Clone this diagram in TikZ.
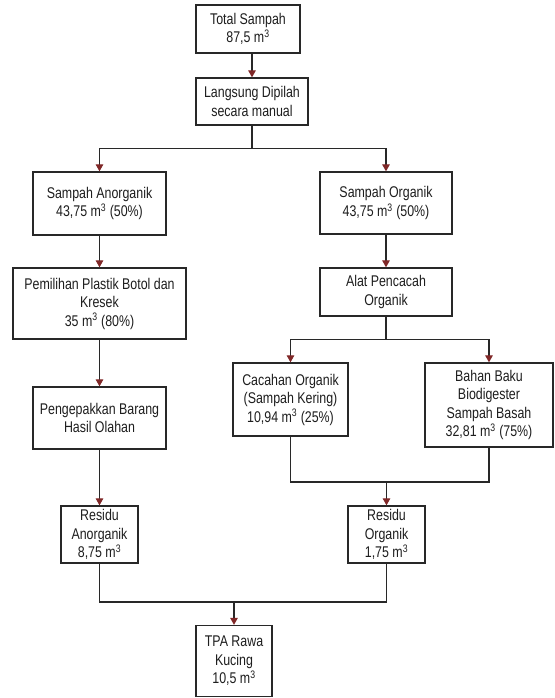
\documentclass[tikz,border=0pt]{standalone}
\usepackage{fontspec}
\setmainfont[FakeStretch=0.8]{Liberation Sans}
\usetikzlibrary{arrows.meta}
\definecolor{arrowred}{RGB}{128,40,40}
\definecolor{boxline}{RGB}{40,40,40}
\definecolor{txt}{RGB}{30,30,30}
\begin{document}
\begin{tikzpicture}[x=1pt,y=-1pt,
  box/.style={draw=boxline,line width=1.3pt,fill=white,align=center,inner sep=0pt,
    text=txt,font=\fontsize{15.5}{18.5}\selectfont},
  conn/.style={draw=boxline,line width=1.2pt},
  arr/.style={conn,-{Triangle[length=7pt,width=7.5pt,color=arrowred]}}]
\path[fill=white,use as bounding box] (0,0) rectangle (554,698);

\node[box,minimum width=104pt,minimum height=48pt] (total) at (248,29) {Total Sampah\\87,5 m\textsuperscript{3}};
\node[box,minimum width=112pt,minimum height=47pt] (langsung) at (252,101.5) {Langsung Dipilah\\secara manual};
\node[box,minimum width=133pt,minimum height=63pt] (anorg) at (99.5,203.5) {Sampah Anorganik\\43,75 m\textsuperscript{3} (50\%)};
\node[box,minimum width=132pt,minimum height=62pt] (org) at (386,203) {Sampah Organik\\43,75 m\textsuperscript{3} (50\%)};
\node[box,minimum width=173pt,minimum height=71pt] (pemilihan) at (99.5,303.5) {Pemilihan Plastik Botol dan\\Kresek\\35 m\textsuperscript{3} (80\%)};
\node[box,minimum width=132pt,minimum height=48pt] (alat) at (386,292) {Alat Pencacah\\Organik};
\node[box,minimum width=133pt,minimum height=62pt] (pengepakkan) at (99.5,418) {Pengepakkan Barang\\Hasil Olahan};
\node[box,minimum width=115pt,minimum height=73pt] (cacahan) at (290.5,399.5) {Cacahan Organik\\(Sampah Kering)\\10,94 m\textsuperscript{3} (25\%)};
\node[box,minimum width=128pt,minimum height=84pt] (bahan) at (489,405) {Bahan Baku\\Biodigester\\Sampah Basah\\32,81 m\textsuperscript{3} (75\%)};
\node[box,minimum width=77pt,minimum height=57pt] (resA) at (99.5,534.5) {Residu\\Anorganik\\8,75 m\textsuperscript{3}};
\node[box,minimum width=77pt,minimum height=57pt] (resO) at (386.5,534.5) {Residu\\Organik\\1,75 m\textsuperscript{3}};
\node[box,minimum width=76pt,minimum height=71pt] (tpa) at (234,661) {TPA Rawa\\Kucing\\10,5 m\textsuperscript{3}};

\draw[arr] (langsung.north |- total.south) -- (langsung.north);
\path (langsung.south) ++(0,23) coordinate (j1);
\draw[conn] (langsung.south) -- (j1);
\draw[arr] (j1) -| (anorg.north);
\draw[arr] (j1) -| (org.north);

\draw[arr] (anorg.south) -- (pemilihan.north);
\draw[arr] (pemilihan.south) -- (pengepakkan.north);
\draw[arr] (pengepakkan.south) -- (resA.north);

\draw[arr] (org.south) -- (alat.north);
\path (alat.south) ++(0,23) coordinate (j2);
\draw[conn] (alat.south) -- (j2);
\draw[arr] (j2) -| (cacahan.north);
\draw[arr] (j2) -| (bahan.north);

\coordinate (j3) at (386.5,482);
\draw[conn] (cacahan.south) |- (j3);
\draw[conn] (bahan.south) |- (j3);
\draw[arr] (j3) -- (resO.north);

\coordinate (j4) at (234,602);
\draw[conn] (resA.south) |- (j4);
\draw[conn] (resO.south) |- (j4);
\draw[arr] (j4) -- (tpa.north);
\end{tikzpicture}
\end{document}
